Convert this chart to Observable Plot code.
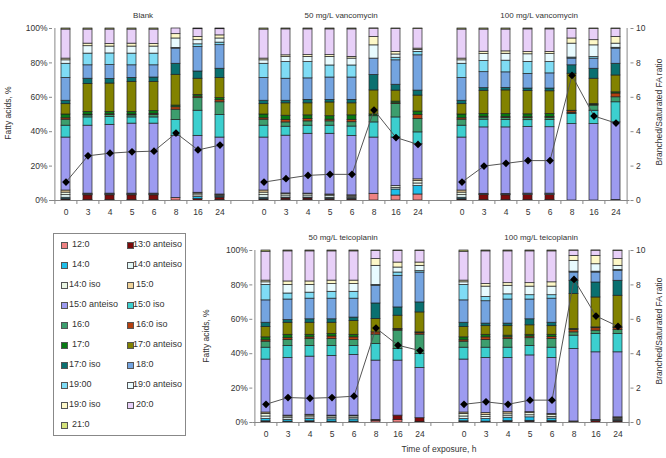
<!DOCTYPE html>
<html><head><meta charset="utf-8">
<script src="https://cdn.jsdelivr.net/npm/d3@7"></script>
<script src="https://cdn.jsdelivr.net/npm/@observablehq/plot@0.6"></script>
<style>
body{margin:0;background:#fff;font-family:"Liberation Sans",Arial,sans-serif;}
#root{position:relative;width:666px;height:458px;overflow:hidden;background:#fff;}
.abs{position:absolute;white-space:nowrap;color:#333;font-size:8.5px;line-height:1;}
.rot{transform:translate(-50%,-50%) rotate(-90deg);}
.ctr{transform:translate(-50%,-50%);}
#legend{position:absolute;left:53px;top:233px;width:131px;height:201px;border:1px solid #888;background:#fff;}
.li{position:absolute;white-space:nowrap;font-size:9px;color:#333;line-height:1;}
.sw{position:absolute;width:5px;height:5px;border:1px solid #555;}
</style></head><body><div id="root"></div>
<script>
// ---- data ----
const hours = ["0","3","4","5","6","8","16","24"];
const faNames = ["12:0","13:0 anteiso","14:0","14:0 anteiso","14:0 iso","15:0","15:0 anteiso","15:0 iso","16:0","16:0 iso","17:0","17:0 anteiso","17:0 iso","18:0","19:00","19:0 anteiso","19:0 iso","20:0","21:0"];
const faColors = ["#ee8282","#7b0b0b","#1fbfea","#e2f7f7","#eaf6e2","#f0d39a","#9d9bf0","#3ccfcf","#3d9e6e","#b5400f","#087a14","#828200","#0a7070","#74a4e0","#7fdcf5","#e8fbff","#fdf8c8","#e8d0f8","#d4e27a"];
const legendPadded = ["12:0","14:0","15:0","16:0","16:0 iso","17:0","18:0","20:0","21:0"];
const panelTitles = ["Blank","50 mg/L vancomycin","100 mg/L vancomycin","50 mg/L teicoplanin","100 mg/L teicoplanin"];
const yTitle = "Fatty acids, %";
const y2Title = "Branched/Saturated FA ratio";
const xTitle = "Time of exposure, h";

// composition per bar (fatty acid order as faNames), %
const compBlank = [
  [0.3,0.5,0.8,1.5,1.5,1.2,30.8,6.9,3.5,0.8,2.2,6,2,13.2,8.3,2,1,16.9,0.6],
  [0.2,2.8,0.2,0.3,0.3,0.2,39.5,4.8,1.2,0.4,1.6,16.3,3,7.8,6.8,4.3,1.5,8.2,0.6],
  [0.2,2.8,0.2,0.3,0.3,0.2,40,4.5,1.2,0.4,1.4,16.5,2.7,8,6.8,4,1.5,8.4,0.6],
  [0.2,2.8,0.2,0.3,0.3,0.2,40.7,3.6,1.2,0.5,1.5,17.5,2.3,7.3,6.8,4.1,1.7,8.2,0.6],
  [0.2,2.8,0.2,0.3,0.3,0.2,40.7,3.6,1.5,0.6,1.6,17,2.5,7.1,6.8,4.1,1.5,8.4,0.6],
  [1.5,0,0,0,0,0,36.1,9.2,6,1.4,1,17.9,6.4,8.8,0.4,5.5,2.5,3.3,0],
  [0,0.8,1.2,1,1,0.5,33.1,14.6,7.3,0.9,1,9.4,4.2,14.3,1.5,2.4,1.9,4.5,0.4],
  [0.2,1.5,0.6,0.5,0.5,0.2,33.1,13.1,7.4,1.2,1.2,11.7,5.4,13.7,1.5,2.4,1.8,3.6,0.4]
];
const compVanco50 = [
  [0.3,0.5,0.8,1.5,1.5,1.2,30.8,6.9,3.5,0.8,2.2,6,2,13.2,8.3,2,1,16.9,0.6],
  [0.2,1,0.5,1.2,1,0.2,33.6,5.2,2.5,1.4,2.5,7.2,1.5,12.8,9.7,2.9,1,15.1,0.5],
  [0.2,1,0.5,1.2,0.9,0.2,34.8,4.7,2.5,1.3,2.2,7,2,12.5,9.5,3,1,15,0.5],
  [0.2,0.8,0.5,1,0.8,0.2,35.3,4.7,2.5,1,2,8,1.5,13,7,5,1,15,0.5],
  [0.2,0.8,0.4,0.8,0.6,0.2,34.5,5.5,2.5,1.4,2.6,7,2,13,7,4,1,16,0.5],
  [3.9,0,0,0,0,0,32.7,8.8,3.6,0,1,14,9,9.5,0,7.7,4.9,4.8,0.1],
  [2.9,0,3.5,1,1,0,28.2,11.7,7.8,0.4,1,6.4,3.4,14.2,1.5,1.9,1.5,13.4,0.2],
  [3.5,0,4.9,1.5,1.4,1,20.4,6.9,7.8,2.3,2,9.3,2.9,20.5,2,1.2,0.7,11.4,0.3]
];
const compVanco100 = [
  [0.3,0.5,0.8,1.5,1.5,1.2,30.8,6.9,3.5,0.8,2.2,6,2,13.2,8.3,2,1,16.9,0.6],
  [0.2,2.9,0.2,0.3,0.3,0,38.6,4.5,1.2,0.5,1.6,13.5,1.5,9.3,6.5,4,1.4,12.9,0.6],
  [0.2,2.8,0.2,0.3,0.3,0,38.7,4.3,1.2,0.5,1.7,13.8,1.5,9,6.8,4,1.4,12.7,0.6],
  [0.2,3,0.2,0.3,0.3,0,38.8,3.9,1.2,0.5,1.7,13.5,1.5,8.5,7,4.4,1.3,13.2,0.5],
  [0.2,3,0.2,0.3,0.3,0,38.6,4.2,1.3,0.5,1.7,13.2,1.6,8.8,6.6,4.6,1.3,13.1,0.5],
  [0,0,0,0,0,0,44.4,5.9,0.6,1,0.3,21.5,4.9,3.9,0.6,8.1,3,5.6,0.2],
  [0,0,0,0,0,0,44.4,7.8,3,0.4,0.5,14.7,5.8,5.9,0.9,6.8,3,6.6,0.2],
  [0,0,0,0,0,0.3,45.1,11.7,2.9,2.2,0.7,9.8,6.8,8.8,0.5,2.4,3.9,4.7,0.2]
];
const compTeico50 = [
  [0.2,0.5,1.3,1.5,1.5,0.8,30.8,6.9,3.5,0.8,1.7,6,2.5,13,9,1.5,1,16.8,0.7],
  [0.2,0.3,1,1,1,0.5,33.5,7,3.5,1,2,7,1.5,12,3.5,5,2,17.5,0.5],
  [0.2,0.5,1.3,1,1,0.5,33.8,6.2,4,1,1.5,7,2,12,3.5,4.5,2,17.5,0.5],
  [0.2,0.3,1.3,1,0.8,0.4,34.7,5.8,4,1.5,1.5,6.5,2,12,4,4.5,2,17,0.5],
  [0.2,0.3,1.3,1,0.8,0.4,35.3,5.2,3.5,1.5,1.5,8,2,11,4,4.5,2,17,0.5],
  [1,0.5,0,0,0,0,34.5,9.6,5.5,1.3,0,7.8,9,10.3,0.5,11.1,3.9,4.8,0.2],
  [1.5,2.5,0,0,0,0,32,6.7,10.7,0.6,0.4,7.7,4.8,18.4,1.9,2.9,2.9,6.8,0.2],
  [0.3,2.2,0,0,0,0,29.2,8.1,11.3,0.8,0.5,11.6,5.8,17.4,0.8,3.1,1.9,6.8,0.2]
];
const compTeico100 = [
  [0.2,0.5,1.3,1.5,1.5,0.8,30.8,6.9,3.5,0.8,1.7,6,2.5,13,9,1.5,1,16.8,0.7],
  [0.3,0.2,1.5,1.2,1.3,1,32,6,4.5,1.5,1.5,5,1.5,13,2.5,6,1.5,19,0.5],
  [0.5,0.3,2,1.2,1.2,0.8,31.5,6,5,1,1,5.5,1.5,14,3,5,1.5,18.5,0.5],
  [0.5,0.5,2,1.2,1.3,0.5,33,5.5,4.5,1,1,5.5,3.5,11.5,2.5,5,2,18.5,0.5],
  [0.3,0.5,1.5,1,1.2,0.5,32.5,6,5,1.2,1.3,5,2,14,2,5,2.5,18,0.5],
  [0,0.3,0,0,0,0.3,42.1,7.8,1.9,1.5,0.5,20.3,7.7,4.8,0.5,6.3,2.9,3,0.1],
  [0,1,0.3,0,0,0.2,39.3,10.7,1.9,1.4,0.5,17.4,8.7,5.8,0.5,4.3,4.9,3,0.1],
  [0.2,0.8,0.5,0.5,0.5,0.5,37.8,10.7,2.3,1,0.5,18.4,8.7,5.8,0.5,2.4,3.9,4.8,0.2]
];

// branched / saturated FA ratio (right axis)
const ratioBlank   = [1.07,2.6,2.75,2.83,2.87,3.92,2.94,3.22];
const ratioVanco50 = [1.07,1.27,1.46,1.52,1.52,5.26,3.66,3.26];
const ratioVanco100= [1.07,2.0,2.16,2.32,2.32,7.27,4.91,4.5];
const ratioTeico50 = [1.06,1.45,1.41,1.45,1.53,5.49,4.49,4.18];
const ratioTeico100= [1.06,1.2,1.06,1.3,1.3,8.32,6.19,5.59];

// ---- chart ----
const FONT = "'Liberation Sans', Arial, sans-serif";
function panelChart(groups, {width, height, marginLeft, marginRight, marginTop, marginBottom}) {
  const domain = [];
  groups.forEach((g, i) => { if (i > 0) domain.push("gap" + i); hours.forEach(h => domain.push(g.id + "|" + h)); });
  const rows = [];
  groups.forEach(g => g.comp.forEach((vals, j) => vals.forEach((v, k) => {
    if (v > 0) rows.push({key: g.id + "|" + hours[j], fa: faNames[k], v});
  })));
  const pts = [];
  groups.forEach(g => g.ratio.forEach((r, j) => pts.push({key: g.id + "|" + hours[j], grp: g.id, r})));
  const n = domain.length;
  const step = (width - marginLeft - marginRight) / n;
  const ph = height - marginTop - marginBottom;
  const titles = groups.map(g => ({key: g.id + "|5", t: g.title}));
  const yt = [0, 0.2, 0.4, 0.6, 0.8, 1];
  return Plot.plot({
    width, height, marginLeft, marginRight, marginTop, marginBottom,
    style: {fontFamily: FONT, fontSize: "8.5px", color: "#333", background: "transparent"},
    x: {type: "band", domain, paddingInner: 0.6, paddingOuter: 0.3, axis: null},
    y: {domain: [0, 1], axis: null},
    color: {type: "ordinal", domain: faNames, range: faColors},
    marks: [
      Plot.barY(rows, Plot.stackY({offset: "normalize"}, {x: "key", y: "v", fill: "fa", stroke: "#222", strokeWidth: 0.7})),
      Plot.ruleY([0], {stroke: "#888"}),
      Plot.ruleX([domain[0]], {x: d => d, dx: -step / 2, y1: 0, y2: 1, stroke: "#888"}),
      Plot.ruleX([domain[n - 1]], {x: d => d, dx: step / 2, y1: 0, y2: 1, stroke: "#888"}),
      Plot.ruleX(domain, {x: d => d, dx: -step / 2, y1: 0, y2: -4 / ph, stroke: "#888"}),
      Plot.ruleX([domain[n - 1]], {x: d => d, dx: step / 2, y1: 0, y2: -4 / ph, stroke: "#888"}),
      Plot.axisY({anchor: "left", ticks: yt, tickFormat: d3.format(".0%"), tickSize: 3, tickPadding: 2, stroke: "#888", label: null}),
      Plot.axisY({anchor: "right", ticks: yt, tickFormat: d => String(Math.round(d * 10)), tickSize: 3, tickPadding: 3, stroke: "#888", label: null}),
      Plot.axisX({tickSize: 0, tickPadding: 8, tickFormat: k => k.startsWith("gap") ? "" : k.split("|")[1], label: null}),
      Plot.text(titles, {x: "key", text: "t", frameAnchor: "top", dx: step / 2, dy: -16, fontSize: 8, fill: "#333"}),
      Plot.line(pts, {x: "key", y: d => d.r / 10, z: "grp", stroke: "#555", strokeWidth: 1}),
      Plot.dot(pts, {x: "key", y: d => d.r / 10, symbol: "diamond2", r: 3.5, fill: "#000", stroke: null})
    ]
  });
}

const root = document.getElementById("root");
function place(node, left, topPx) {
  const d = document.createElement("div");
  d.style.position = "absolute"; d.style.left = left + "px"; d.style.top = topPx + "px";
  d.appendChild(node); root.appendChild(d); return d;
}
function label(text, x, y, cls) {
  const d = document.createElement("div");
  d.className = "abs " + cls; d.textContent = text;
  d.style.left = x + "px"; d.style.top = y + "px";
  root.appendChild(d);
}

const topChart = panelChart([
  {id: "B", title: panelTitles[0], comp: compBlank, ratio: ratioBlank},
  {id: "V50", title: panelTitles[1], comp: compVanco50, ratio: ratioVanco50},
  {id: "V100", title: panelTitles[2], comp: compVanco100, ratio: ratioVanco100}
], {width: 666, height: 222, marginLeft: 52, marginRight: 36.5, marginTop: 28, marginBottom: 22});
place(topChart, 0, 0);

const bottomChart = panelChart([
  {id: "T50", title: panelTitles[3], comp: compTeico50, ratio: ratioTeico50},
  {id: "T100", title: panelTitles[4], comp: compTeico100, ratio: ratioTeico100}
], {width: 466, height: 224, marginLeft: 52.3, marginRight: 36.5, marginTop: 28, marginBottom: 24});
place(bottomChart, 200, 222);

label(yTitle, 8, 113, "rot");
label(yTitle, 206, 336, "rot");
label(y2Title, 659, 112, "rot");
label(y2Title, 659, 331, "rot");
label(xTitle, 439, 449, "ctr");

// legend
const lg = document.createElement("div");
lg.id = "legend";
faNames.forEach((name, i) => {
  const col = i % 2, row = Math.floor(i / 2);
  const cy = 11 + row * 20;
  const sw = document.createElement("div");
  sw.className = "sw";
  sw.style.background = faColors[i];
  sw.style.left = (col ? 73 : 7) + "px";
  sw.style.top = (cy - 3.5) + "px";
  lg.appendChild(sw);
  const t = document.createElement("div");
  t.className = "li";
  t.textContent = name;
  const pad = legendPadded.includes(name) ? 3 : 0;
  t.style.left = ((col ? 79 : 15) + pad) + "px";
  t.style.top = (cy - 5) + "px";
  lg.appendChild(t);
});
root.appendChild(lg);
</script></body></html>
